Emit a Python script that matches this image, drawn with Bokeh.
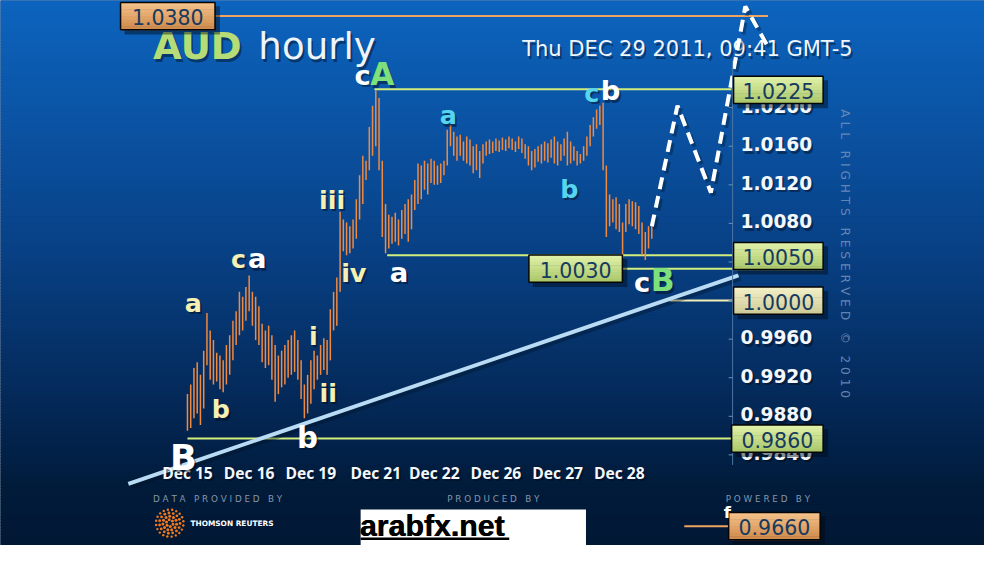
import numpy as np
from bokeh.plotting import figure
from bokeh.models import Range1d
from bokeh.core.properties import value
from bokeh.embed import file_html
from bokeh.resources import INLINE

# ---------------- data ----------------
highs = [
    0.9903, 0.9913, 0.9930, 0.9936, 0.9923, 0.9948, 0.9987, 0.9969, 0.9959, 0.9946,
    0.9943, 0.9938, 0.9954, 0.9964, 0.9979, 0.9989, 1.0009, 1.0004, 1.0014, 1.0026,
    1.0009, 1.0004, 0.9994, 0.9976, 0.9969, 0.9974, 0.9964, 0.9954, 0.9943, 0.9948,
    0.9954, 0.9959, 0.9964, 0.9969, 0.9959, 0.9938, 0.9913, 0.9923, 0.9938, 0.9948,
    0.9943, 0.9954, 0.9961, 0.9959, 0.9991, 1.0009, 1.0024, 1.0092, 1.0084, 1.0081,
    1.0077, 1.0084, 1.0105, 1.0130, 1.0150, 1.0145, 1.0180, 1.0202, 1.0218, 1.0210,
    1.0145, 1.0100, 1.0089, 1.0087, 1.0091, 1.0084, 1.0094, 1.0100, 1.0105, 1.0110,
    1.0125, 1.0142, 1.0140, 1.0145, 1.0142, 1.0147, 1.0145, 1.0140, 1.0142, 1.0145,
    1.0177, 1.0182, 1.0175, 1.0170, 1.0172, 1.0165, 1.0170, 1.0167, 1.0160, 1.0162,
    1.0155, 1.0162, 1.0165, 1.0167, 1.0165, 1.0168, 1.0166, 1.0169, 1.0167, 1.0170,
    1.0168, 1.0165, 1.0170, 1.0168, 1.0162, 1.0160, 1.0155, 1.0157, 1.0160, 1.0162,
    1.0165, 1.0163, 1.0167, 1.0170, 1.0165, 1.0162, 1.0168, 1.0175, 1.0165, 1.0160,
    1.0155, 1.0152, 1.0160, 1.0170, 1.0182, 1.0190, 1.0198, 1.0202, 1.0205, 1.0140,
    1.0110, 1.0105, 1.0107, 1.0100, 1.0081, 1.0100, 1.0105, 1.0103, 1.0102, 1.0098,
    1.0081, 1.0071, 1.0077, 1.0081,
]
lows = [
    0.9865, 0.9868, 0.9878, 0.9883, 0.9871, 0.9888, 0.9933, 0.9918, 0.9913, 0.9916,
    0.9908, 0.9905, 0.9913, 0.9923, 0.9938, 0.9954, 0.9964, 0.9969, 0.9979, 0.9989,
    0.9974, 0.9959, 0.9954, 0.9936, 0.9930, 0.9933, 0.9918, 0.9895, 0.9903, 0.9910,
    0.9913, 0.9920, 0.9923, 0.9926, 0.9918, 0.9898, 0.9878, 0.9883, 0.9893, 0.9908,
    0.9918, 0.9923, 0.9928, 0.9923, 0.9938, 0.9969, 0.9974, 1.0009, 1.0051, 1.0047,
    1.0049, 1.0054, 1.0064, 1.0084, 1.0100, 1.0125, 1.0135, 1.0150, 1.0160, 1.0135,
    1.0066, 1.0049, 1.0054, 1.0059, 1.0061, 1.0057, 1.0064, 1.0069, 1.0061, 1.0074,
    1.0094, 1.0100, 1.0105, 1.0115, 1.0110, 1.0122, 1.0120, 1.0120, 1.0122, 1.0130,
    1.0140, 1.0160, 1.0150, 1.0145, 1.0150, 1.0145, 1.0142, 1.0140, 1.0132, 1.0135,
    1.0127, 1.0142, 1.0150, 1.0152, 1.0153, 1.0155, 1.0154, 1.0156, 1.0155, 1.0158,
    1.0156, 1.0154, 1.0157, 1.0153, 1.0147, 1.0140, 1.0135, 1.0138, 1.0144, 1.0142,
    1.0145, 1.0143, 1.0148, 1.0142, 1.0140, 1.0145, 1.0150, 1.0140, 1.0142, 1.0145,
    1.0140, 1.0142, 1.0145, 1.0150, 1.0160, 1.0170, 1.0178, 1.0182, 1.0135, 1.0066,
    1.0077, 1.0081, 1.0074, 1.0071, 1.0044, 1.0071, 1.0079, 1.0077, 1.0074, 1.0069,
    1.0047, 1.0042, 1.0054, 1.0064,
]
date_labels = ["Dec 15", "Dec 16", "Dec 19", "Dec 21", "Dec 22", "Dec 26", "Dec 27", "Dec 28"]
date_bars = [0, 19, 38, 58, 76, 95, 114, 133]
price_ticks = [1.0200, 1.0160, 1.0120, 1.0080, 1.0040, 1.0000, 0.9960, 0.9920, 0.9880, 0.9840]

level_labels = ["1.0380", "1.0225", "1.0050", "1.0030", "1.0000", "0.9860", "0.9660"]
level_line_prices = [1.0295, 1.0219, 1.0047, 1.0033, 1.0000, 0.9857, 0.9766]
level_start_bars = [8.5, 57.6, 61.5, 133.6, 148.5, 0.0, 153.0]
level_end_bars = [178.8, 168.2, 168.2, 168.2, 168.2, 168.2, 166.7]

trend_bars = [-18.2, 169.7]
trend_prices = [0.9810, 1.0026]
forecast_bars = [143.0, 150.9, 161.2, 171.8, 178.8]
forecast_prices = [1.0077, 1.0202, 1.0112, 1.0305, 1.0263]

# ---------------- geometry helpers (reference pixel -> data) ----------------
def bx(xr):
    return (xr - 190.0) / 3.3

def by(yr):
    return 1.016 - (yr - 150.0) / 9929.0

W, H = 984, 545
FS = 0.978  # font scale (figure is slightly smaller than the reference)

def fs(px):
    return "%.1fpx" % (px * FS)

p = figure(width=W, height=H, output_backend="svg", toolbar_location=None,
           x_range=Range1d(bx(0), bx(1000)), y_range=Range1d(by(561), by(0)),
           min_border=0)
p.axis.visible = False
p.grid.visible = False
p.outline_line_color = None
p.background_fill_color = "#02204a"
p.border_fill_color = "#02204a"

XL, XR = bx(-5), bx(1005)

def hexc(c):
    return "#%02x%02x%02x" % tuple(int(round(v)) for v in c)

def interp(stops, t):
    for (p0, c0), (p1, c1) in zip(stops[:-1], stops[1:]):
        if p0 <= t <= p1:
            f = (t - p0) / (p1 - p0) if p1 > p0 else 0.0
            return hexc([a + (b - a) * f for a, b in zip(c0, c1)])
    return hexc(stops[-1][1] if t > stops[-1][0] else stops[0][1])

# ---------------- background gradient ----------------
bg_stops = [(0, (12, 100, 190)), (120, (11, 84, 165)), (260, (8, 64, 132)),
            (380, (5, 46, 98)), (470, (2, 32, 70)), (500, (1, 27, 58)), (561, (1, 24, 52))]
ys = np.arange(-3, 565, 3)
p.quad(left=XL, right=XR, top=[by(y) for y in ys], bottom=[by(y + 3.8) for y in ys],
       fill_color=[interp(bg_stops, y + 1.5) for y in ys], line_color=None)

def txt(xr, yr, s, color, size, font="DejaVu Sans", style="normal", align="left",
        baseline="middle", angle=0.0, alpha=1.0, shadow=False):
    if shadow:
        p.text(x=[bx(xr + 2)], y=[by(yr + 2.5)], text=[s], text_color="#000814",
               text_alpha=0.45 * alpha, text_font=value(font), text_font_size=fs(size),
               text_font_style=style, text_align=align, text_baseline=baseline, angle=angle)
    p.text(x=[bx(xr)], y=[by(yr)], text=[s], text_color=color, text_alpha=alpha,
           text_font=value(font), text_font_size=fs(size), text_font_style=style,
           text_align=align, text_baseline=baseline, angle=angle)

def spaced(s):
    # letter-spaced text: single spaces between letters, non-collapsing gaps between words
    return " \u00a0 ".join(" ".join(w) for w in s.split(" "))

# ---------------- title ----------------
txt(155, 47, "AUD", "#b6dc78", 38, style="bold", shadow=True)
txt(262, 47, "hourly", "#eef4fa", 38, shadow=True)
txt(866, 50, "Thu DEC 29 2011, 09:41 GMT-5", "#f2f6fa", 21.5, align="right", shadow=True)

# vertical copyright
txt(858, 112, spaced("ALL RIGHTS RESERVED © 2010"), "#6f8fba", 12.5,
    align="left", angle=-np.pi / 2, alpha=0.9)

# ---------------- level lines ----------------
level_line_colors = ["#f0a462", "#d2ee7c", "#d2ee7c", "#d2ee7c", "#f2efb4", "#d2ee7c", "#f0a462"]
for lp, s0, s1, c in zip(level_line_prices, level_start_bars, level_end_bars, level_line_colors):
    p.line([s0, s1], [lp, lp], line_color=c, line_width=2)

# ---------------- price bars ----------------
idx = list(range(len(highs)))
p.segment(x0=idx, y0=lows, x1=idx, y1=highs, line_color="#f08a40", line_width=1.5)

# ---------------- trendline ----------------
p.line([b + 0.6 for b in trend_bars], [v - 0.0003 for v in trend_prices], line_color="#001020",
       line_alpha=0.35, line_width=5)
p.line(trend_bars, trend_prices, line_color="#b9dcf4", line_width=4)

# ---------------- forecast dashed path ----------------
p.line([b + 0.8 for b in forecast_bars], [v - 0.0003 for v in forecast_prices],
       line_color="#001020", line_alpha=0.35, line_width=4, line_dash="12 7")
p.line(forecast_bars, forecast_prices, line_color="#ffffff", line_width=4, line_dash="12 7")

# ---------------- y axis (right, inside) ----------------
p.segment(x0=[bx(744)], y0=[by(62)], x1=[bx(744)], y1=[by(478)], line_color="#4d74a2", line_width=1)
p.segment(x0=[bx(740)] * len(price_ticks), y0=price_ticks, x1=[bx(744)] * len(price_ticks),
          y1=price_ticks, line_color="#6f92b8", line_width=1)
for t in price_ticks:
    yr = 150 + (1.016 - t) * 9929 - 2
    txt(752, yr, "%.4f" % t, "#f4f8fc", 19, style="bold", shadow=True)

# ---------------- x axis labels ----------------
for lab, b in zip(date_labels, date_bars):
    txt(190 + 3.3 * b, 486, lab, "#f4f8fc", 16, font="Open Sans", style="bold",
        align="center", shadow=True)

# ---------------- wave labels ----------------
YEL, WHT, CYN, GRN = "#f6f0b4", "#ffffff", "#55d6ee", "#7ee07a"
wave_labels = [
    (186, 470, "B", WHT, 36),
    (196, 311, "a", YEL, 26),
    (224, 421, "b", YEL, 26),
    (242, 266, "c", YEL, 26),
    (261, 266, "a", WHT, 28),
    (312, 450, "b", WHT, 30),
    (318, 345, "i", YEL, 26),
    (333, 404, "ii", YEL, 26),
    (337, 205, "iii", YEL, 26),
    (359, 280, "iv", YEL, 26),
    (368, 77, "c", WHT, 28),
    (388, 76, "A", GRN, 32),
    (405, 280, "a", WHT, 28),
    (455, 118, "a", CYN, 26),
    (578, 194, "b", CYN, 26),
    (601, 95, "c", CYN, 26),
    (620, 93, "b", WHT, 28),
    (652, 290, "c", WHT, 28),
    (673, 288, "B", GRN, 32),
]
for xr, yr, s, c, sz in wave_labels:
    txt(xr, yr, s, c, sz, style="bold", align="center", shadow=True)

# ---------------- level boxes ----------------
ORG = ((246, 196, 140), (206, 136, 74))
GRE = ((226, 242, 170), (168, 198, 104))
BEI = ((244, 240, 200), (206, 202, 150))
boxes = [  # label, left, top, width, height, colours
    ("1.0380", 122, 2, 96, 28, ORG),
    ("1.0225", 745, 78, 91, 28, GRE),
    ("1.0050", 745, 249, 91, 28, GRE),
    ("1.0030", 537, 262, 95, 28, GRE),
    ("1.0000", 745, 295, 91, 28, BEI),
    ("0.9860", 743, 437, 93, 28, GRE),
    ("0.9660", 740, 527, 93, 28, ORG),
]
assert [b[0] for b in boxes] == level_labels
for lab, l, t, w, h, (c0, c1) in boxes:
    p.quad(left=[bx(l + 4)], right=[bx(l + w + 5)], top=[by(t + 4)], bottom=[by(t + h + 5)],
           fill_color="#000814", fill_alpha=0.45, line_color=None)
    n = 8
    tops = [t + h * k / n for k in range(n)]
    p.quad(left=bx(l), right=bx(l + w), top=[by(v) for v in tops],
           bottom=[by(v + h / n + 0.6) for v in tops],
           fill_color=[interp([(0, c0), (1, c1)], (k + 0.5) / n) for k in range(n)], line_color=None)
    p.quad(left=[bx(l)], right=[bx(l + w)], top=[by(t)], bottom=[by(t + h)],
           fill_alpha=0, line_color="#050505", line_width=1.5)
    txt(l + w / 2, t + h / 2 + 1, lab, "#173a5e", 21, align="center")

# ---------------- footer ----------------
GREY = "#8696aa"
txt(155, 513, spaced("DATA PROVIDED BY"), GREY, 9)
txt(454, 513, spaced("PRODUCED BY"), GREY, 9)
txt(737, 513, spaced("POWERED BY"), GREY, 9)

# Thomson Reuters roundel
for r, n, sz in [(3.5, 6, 3), (7, 11, 3), (10.5, 15, 2.8), (14, 20, 2.4)]:
    ang = np.linspace(0, 2 * np.pi, n, endpoint=False) + r
    p.scatter(x=[bx(172 + r * np.cos(a)) for a in ang], y=[by(538 + r * np.sin(a)) for a in ang],
              size=sz, fill_color="#f07a1c", line_color=None)
p.scatter(x=[bx(172)], y=[by(538)], size=3, fill_color="#02204a", line_color=None)
txt(193, 538, "THOMSON REUTERS", "#ffffff", 7.6, style="bold")

# arabfx.net white panel
p.quad(left=[bx(366)], right=[bx(595)], top=[by(524)], bottom=[by(565)], fill_color="#ffffff",
       line_color=None)
txt(365, 540, "arabfx.net", "#000000", 31, font="Liberation Sans", style="bold",
    baseline="middle")
p.text(x=[bx(365.6)], y=[by(540)], text=["arabfx.net"], text_color="#000000",
       text_font=value("Liberation Sans"), text_font_size=fs(31), text_font_style="bold",
       text_align="left", text_baseline="middle")
p.line([bx(366), bx(517)], [by(554), by(554)], line_color="#000000", line_width=2.5)

txt(735, 527, "f", "#ffffff", 17, style="bold")

open("out.html", "w").write(file_html(p, INLINE))
